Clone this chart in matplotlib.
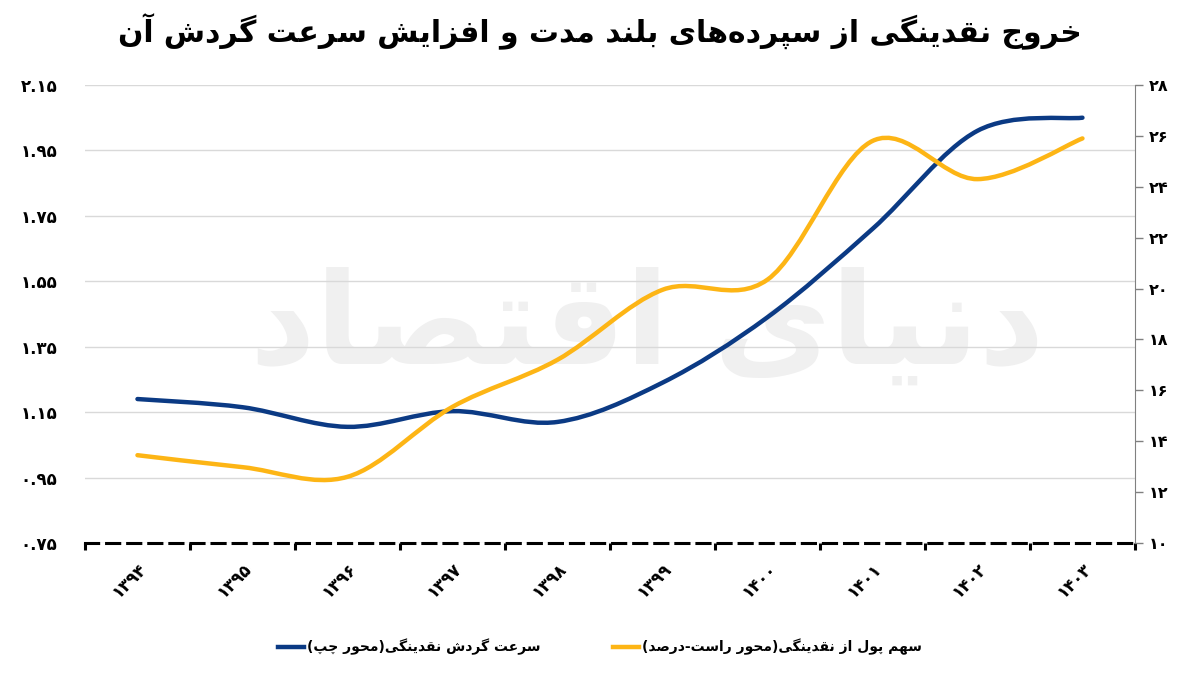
import matplotlib

matplotlib.use("Agg")
import matplotlib.pyplot as plt
from matplotlib.lines import Line2D
from matplotlib.patches import PathPatch
from matplotlib.path import Path

# ---- data -------------------------------------------------------------
years = ["۱۳۹۴", "۱۳۹۵", "۱۳۹۶", "۱۳۹۷", "۱۳۹۸", "۱۳۹۹", "۱۴۰۰", "۱۴۰۱", "۱۴۰۲", "۱۴۰۳"]
velocity = [1.19, 1.165, 1.105, 1.153, 1.12, 1.24, 1.44, 1.71, 2.01, 2.05]        # left axis
money_share = [13.45, 12.98, 12.6, 15.35, 17.2, 19.95, 20.35, 25.8, 24.3, 25.9]   # right axis, %

left_ticks = [0.75, 0.95, 1.15, 1.35, 1.55, 1.75, 1.95, 2.15]
left_labels = ["۰.۷۵", "۰.۹۵", "۱.۱۵", "۱.۳۵", "۱.۵۵", "۱.۷۵", "۱.۹۵", "۲.۱۵"]
right_ticks = [10, 12, 14, 16, 18, 20, 22, 24, 26, 28]
right_labels = ["۱۰", "۱۲", "۱۴", "۱۶", "۱۸", "۲۰", "۲۲", "۲۴", "۲۶", "۲۸"]

title = "خروج نقدینگی از سپرده‌های بلند مدت و افزایش سرعت گردش آن"
label_velocity = "سرعت گردش نقدینگی(محور چپ)"
label_share = "سهم پول از نقدینگی(محور راست-درصد)"
watermark = "دنیای اقتصاد"

BLUE = "#0b3a84"
ORANGE = "#fdb515"

# ---- minimal persian shaping (no arabic_reshaper / bidi available) ----
# isolated, final, initial, medial
FORMS = {
    "\u0622": ("\uFE81", "\uFE82", None, None),
    "\u0627": ("\uFE8D", "\uFE8E", None, None),
    "\u0628": ("\uFE8F", "\uFE90", "\uFE91", "\uFE92"),
    "\u067E": ("\uFB56", "\uFB57", "\uFB58", "\uFB59"),
    "\u062A": ("\uFE95", "\uFE96", "\uFE97", "\uFE98"),
    "\u062B": ("\uFE99", "\uFE9A", "\uFE9B", "\uFE9C"),
    "\u062C": ("\uFE9D", "\uFE9E", "\uFE9F", "\uFEA0"),
    "\u0686": ("\uFB7A", "\uFB7B", "\uFB7C", "\uFB7D"),
    "\u062D": ("\uFEA1", "\uFEA2", "\uFEA3", "\uFEA4"),
    "\u062E": ("\uFEA5", "\uFEA6", "\uFEA7", "\uFEA8"),
    "\u062F": ("\uFEA9", "\uFEAA", None, None),
    "\u0630": ("\uFEAB", "\uFEAC", None, None),
    "\u0631": ("\uFEAD", "\uFEAE", None, None),
    "\u0632": ("\uFEAF", "\uFEB0", None, None),
    "\u0698": ("\uFB8A", "\uFB8B", None, None),
    "\u0633": ("\uFEB1", "\uFEB2", "\uFEB3", "\uFEB4"),
    "\u0634": ("\uFEB5", "\uFEB6", "\uFEB7", "\uFEB8"),
    "\u0635": ("\uFEB9", "\uFEBA", "\uFEBB", "\uFEBC"),
    "\u0636": ("\uFEBD", "\uFEBE", "\uFEBF", "\uFEC0"),
    "\u0637": ("\uFEC1", "\uFEC2", "\uFEC3", "\uFEC4"),
    "\u0638": ("\uFEC5", "\uFEC6", "\uFEC7", "\uFEC8"),
    "\u0639": ("\uFEC9", "\uFECA", "\uFECB", "\uFECC"),
    "\u063A": ("\uFECD", "\uFECE", "\uFECF", "\uFED0"),
    "\u0641": ("\uFED1", "\uFED2", "\uFED3", "\uFED4"),
    "\u0642": ("\uFED5", "\uFED6", "\uFED7", "\uFED8"),
    "\u06A9": ("\uFB8E", "\uFB8F", "\uFB90", "\uFB91"),
    "\u06AF": ("\uFB92", "\uFB93", "\uFB94", "\uFB95"),
    "\u0644": ("\uFEDD", "\uFEDE", "\uFEDF", "\uFEE0"),
    "\u0645": ("\uFEE1", "\uFEE2", "\uFEE3", "\uFEE4"),
    "\u0646": ("\uFEE5", "\uFEE6", "\uFEE7", "\uFEE8"),
    "\u0648": ("\uFEED", "\uFEEE", None, None),
    "\u0647": ("\uFEE9", "\uFEEA", "\uFEEB", "\uFEEC"),
    "\u06CC": ("\uFBFC", "\uFBFD", "\uFBFE", "\uFBFF"),
    "\u064A": ("\uFEF1", "\uFEF2", "\uFEF3", "\uFEF4"),
}
MIRROR = {"(": ")", ")": "("}


def fa(text):
    out = []
    n = len(text)
    for i, c in enumerate(text):
        if c not in FORMS:
            if c != "\u200c":
                out.append(c)
            continue
        prev = text[i - 1] if i > 0 else None
        nxt = text[i + 1] if i + 1 < n else None
        jp = prev in FORMS and FORMS[prev][2] is not None
        jn = nxt in FORMS and FORMS[c][2] is not None
        iso, fin, ini, med = FORMS[c]
        if jp and jn:
            out.append(med)
        elif jp:
            out.append(fin)
        elif jn:
            out.append(ini)
        else:
            out.append(iso)
    return "".join(MIRROR.get(ch, ch) for ch in reversed(out))


def bezier_path(xs, ys):
    # excel-like smoothed line: catmull-rom tangents as cubic bezier controls
    pts = list(zip(xs, ys))
    verts = [pts[0]]
    codes = [Path.MOVETO]
    for i in range(len(pts) - 1):
        p0 = pts[i - 1] if i > 0 else pts[i]
        p1, p2 = pts[i], pts[i + 1]
        p3 = pts[i + 2] if i + 2 < len(pts) else pts[i + 1]
        c1 = (p1[0] + (p2[0] - p0[0]) / 6, p1[1] + (p2[1] - p0[1]) / 6)
        c2 = (p2[0] - (p3[0] - p1[0]) / 6, p2[1] - (p3[1] - p1[1]) / 6)
        verts += [c1, c2, p2]
        codes += [Path.CURVE4] * 3
    return Path(verts, codes)


plt.rcParams["font.family"] = ["DejaVu Sans"]
plt.rcParams["font.weight"] = "bold"

fig = plt.figure(figsize=(12, 6.74), dpi=100)
ax = fig.add_axes([0.0708, 0.1944, 0.875, 0.6795])
ax2 = ax.twinx()

xs = [i + 0.5 for i in range(len(years))]

ax.text(0.535, 0.47, fa(watermark), transform=ax.transAxes, fontsize=92,
        color="#f0f0f0", ha="center", va="center", zorder=0)

ax.add_patch(PathPatch(bezier_path(xs, velocity), fill=False, edgecolor=BLUE,
                       lw=3.2, capstyle="round", zorder=3))
ax2.add_patch(PathPatch(bezier_path(xs, money_share), fill=False, edgecolor=ORANGE,
                        lw=3.2, capstyle="round", zorder=3))

ax.set_xlim(0, len(years))
ax.set_ylim(0.75, 2.15)
ax2.set_ylim(10, 28)

ax.set_yticks(left_ticks)
ax.set_yticklabels(left_labels, fontsize=12, fontweight="bold")
ax.tick_params(axis="y", length=0, pad=20)
ax.grid(axis="y", color="#d9d9d9", lw=1)
ax.set_axisbelow(True)

ax2.set_yticks(right_ticks)
ax2.set_yticklabels(right_labels, fontsize=11.5, fontweight="bold")
ax2.tick_params(axis="y", length=6, width=1, color="#808080", pad=4)

ax.set_xticks(range(len(years) + 1))
ax.set_xticklabels([])
ax.set_xticks(xs, minor=True)
ax.set_xticklabels(years, minor=True, rotation=45, ha="right", va="top",
                   rotation_mode="anchor", fontsize=12, fontweight="bold")
ax.tick_params(axis="x", which="major", length=5, width=2.2, color="black")
ax.tick_params(axis="x", which="minor", length=0, pad=12)

for a in (ax, ax2):
    for side in ("top", "left", "right", "bottom"):
        a.spines[side].set_visible(False)
ax.spines["bottom"].set_visible(True)
ax.spines["bottom"].set_linewidth(2.2)
ax.spines["bottom"].set_linestyle((0, (4.3, 2.6)))
ax2.spines["right"].set_visible(True)
ax2.spines["right"].set_color("#808080")

fig.text(0.5, 0.953, fa(title), ha="center", va="center", fontsize=21.5, fontweight="bold")

handles = [Line2D([], [], color=BLUE, lw=3.2), Line2D([], [], color=ORANGE, lw=3.2)]
fig.legend(handles, [fa(label_velocity), fa(label_share)], loc="center",
           bbox_to_anchor=(0.5, 0.04), ncol=2, frameon=False, fontsize=10,
           handlelength=1.9, handletextpad=0.2, columnspacing=5.2)

fig.savefig("out.png", dpi=100)
